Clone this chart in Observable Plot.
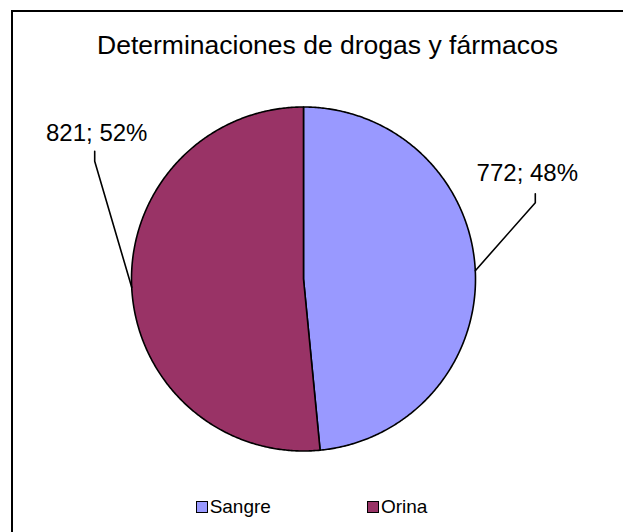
<!DOCTYPE html>
<html>
<head>
<meta charset="utf-8">
<script src="https://cdn.jsdelivr.net/npm/d3@7"></script>
<script src="https://cdn.jsdelivr.net/npm/@observablehq/plot@0.6"></script>
<style>
  html, body { margin: 0; padding: 0; background: #fff; }
  #chart { position: relative; width: 623px; height: 532px; overflow: hidden; font-family: "Liberation Sans", Arial, sans-serif; }
  #chart svg { position: absolute; left: 0; top: 0; }
  #frame { position: absolute; left: 11px; top: 10px; width: 700px; height: 700px; border: 2px solid #000; box-sizing: border-box; pointer-events: none; }
  #title { position: absolute; left: 97px; top: 30px; white-space: nowrap; font-size: 26.5px; line-height: 30px; color: #000; }
  #legend { position: absolute; top: 496px; left: 0; width: 623px; display: flex; justify-content: center; gap: 96px; font-size: 19px; line-height: 22px; }
  #legend .item { display: flex; align-items: center; }
  #legend .sw { width: 10px; height: 10px; border: 1.5px solid #000; margin-right: 2px; }
</style>
</head>
<body>
<div id="chart">
  <div id="title">Determinaciones de drogas y fármacos</div>
  <div id="legend"></div>
  <div id="frame"></div>
</div>
<script>
// Sample counts by specimen type
const categories = ["Sangre", "Orina"];
const values = [772, 821];
const colors = ["#9999FF", "#993366"];

// Leader-line geometry per slice, in pixels relative to the slice's outer midpoint
const leaderElbow = [[60, -68], [-37, -126]];
const leaderTop = [[60, -77], [-37, -136]];
const labelOffset = [[52, -97], [-35, -154]];

const R = 172; // pie radius in pixels
const cx = 303, cy = 278.5;

const total = d3.sum(values);
const arcs = d3.pie().sort(null).value(d => d)(values);

// Polygon outline of each slice in unit coordinates (y up)
const slices = arcs.map((a) => {
  const pts = [{x: 0, y: 0}];
  const steps = Math.max(2, Math.ceil((a.endAngle - a.startAngle) / (Math.PI / 360)));
  for (let k = 0; k <= steps; ++k) {
    const t = a.startAngle + (a.endAngle - a.startAngle) * k / steps;
    pts.push({x: Math.sin(t), y: Math.cos(t)});
  }
  return pts;
});

const px = (p) => ({dx: p[0] / R, dy: -p[1] / R});

const leaders = arcs.map((a, i) => {
  const m = (a.startAngle + a.endAngle) / 2;
  const ex = Math.sin(m), ey = Math.cos(m);
  const e = px(leaderElbow[i]), t = px(leaderTop[i]);
  return [
    {x: ex, y: ey, k: i},
    {x: ex + e.dx, y: ey + e.dy, k: i},
    {x: ex + t.dx, y: ey + t.dy, k: i}
  ];
}).flat();

const labels = arcs.map((a, i) => {
  const m = (a.startAngle + a.endAngle) / 2;
  const o = px(labelOffset[i]);
  return {
    x: Math.sin(m) + o.dx,
    y: Math.cos(m) + o.dy,
    text: `${values[i]}; ${Math.round(values[i] / total * 100)}%`
  };
});

const plot = Plot.plot({
  width: 623,
  height: 532,
  margin: 0,
  x: {domain: [-1, 1], range: [cx - R, cx + R], axis: null},
  y: {domain: [-1, 1], range: [cy + R, cy - R], axis: null},
  style: {background: "transparent", fontFamily: "Liberation Sans, Arial, sans-serif"},
  marks: [
    ...slices.map((pts, i) => Plot.line(pts, {
      x: "x", y: "y", curve: "linear-closed",
      fill: colors[i], stroke: "#000", strokeWidth: 1.6, strokeLinejoin: "round"
    })),
    Plot.line(leaders, {x: "x", y: "y", z: "k", stroke: "#000", strokeWidth: 1.6}),
    Plot.text(labels, {x: "x", y: "y", text: "text", fontSize: 24, fill: "#000"})
  ]
});
document.getElementById("chart").prepend(plot);

// Legend entries
const legend = document.getElementById("legend");
categories.forEach((c, i) => {
  const item = document.createElement("div");
  item.className = "item";
  const sw = document.createElement("span");
  sw.className = "sw";
  sw.style.background = colors[i];
  const lab = document.createElement("span");
  lab.textContent = c;
  item.append(sw, lab);
  legend.append(item);
});
</script>
</body>
</html>
